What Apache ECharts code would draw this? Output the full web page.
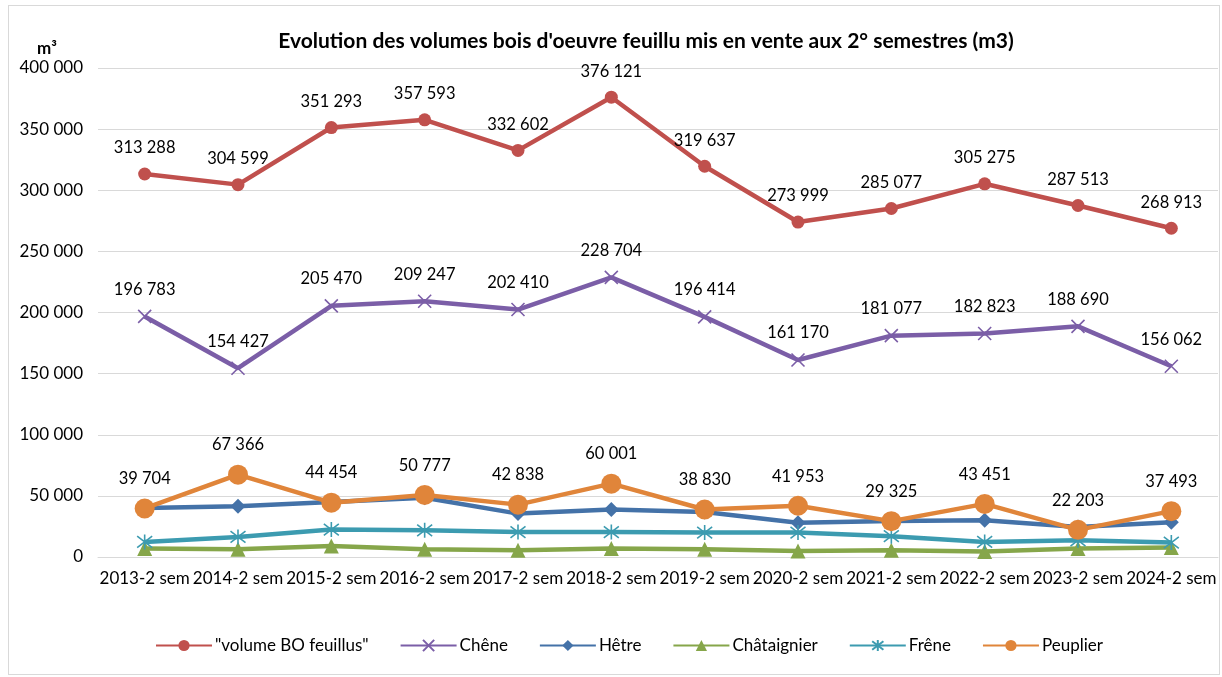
<!DOCTYPE html>
<html>
<head>
<meta charset="utf-8">
<script src="https://cdn.jsdelivr.net/npm/echarts@6/dist/echarts.min.js"></script>
<style>
  html, body { margin: 0; padding: 0; background: #fff; }
  #frame {
    position: absolute; left: 8px; top: 5px;
    width: 1212px; height: 670px;
    border: 1px solid #d9d9d9; box-sizing: border-box;
  }
  #chart { position: absolute; left: 0; top: 0; width: 1222px; height: 677px; }
</style>
</head>
<body>
<div id="frame"></div>
<div id="chart"></div>
<script type="text/javascript">
    var categories = ['2013-2 sem', '2014-2 sem', '2015-2 sem', '2016-2 sem', '2017-2 sem', '2018-2 sem',
                      '2019-2 sem', '2020-2 sem', '2021-2 sem', '2022-2 sem', '2023-2 sem', '2024-2 sem'];
    var volumeBO = [313288, 304599, 351293, 357593, 332602, 376121, 319637, 273999, 285077, 305275, 287513, 268913];
    var chene = [196783, 154427, 205470, 209247, 202410, 228704, 196414, 161170, 181077, 182823, 188690, 156062];
    var hetre = [40000, 41500, 45000, 48500, 35500, 38800, 36800, 28100, 29500, 30000, 24500, 28500];
    var chataignier = [6900, 6300, 9000, 6300, 5500, 6900, 6300, 4900, 5500, 4600, 6900, 7700];
    var frene = [12300, 16400, 22400, 21800, 20400, 20400, 20000, 20000, 17000, 12300, 13700, 11800];
    var peuplier = [39704, 67366, 44454, 50777, 42838, 60001, 38830, 41953, 29325, 43451, 22203, 37493];

    var fontFam = 'Lato, "Liberation Sans", sans-serif';
    function fmt(v) {
        return String(v).replace(/\B(?=(\d{3})+(?!\d))/g, ' ');
    }

    var crossPath = 'path://M0,0L10,10M10,0L0,10';
    var starPath = 'path://M0,0L10,10M10,0L0,10M5,-1.5L5,11.5';

    function mkSeries(name, data, color, symbol, size, labels, z) {
        var s = {
            name: name,
            type: 'line',
            data: data,
            symbol: symbol,
            symbolSize: size,
            z: z,
            lineStyle: { color: color, width: 4.5 },
            itemStyle: { color: color },
            label: {
                show: labels,
                position: 'top',
                distance: 11,
                color: '#000',
                fontSize: 16.5,
                fontFamily: fontFam,
                formatter: function (p) { return fmt(p.value); }
            }
        };
        if (symbol === crossPath || symbol === starPath) {
            s.itemStyle = { color: 'transparent', borderColor: color, borderWidth: 1.6 };
        }
        return s;
    }

    var chartA = echarts.init(document.getElementById('chart'));
    var option = {
        animation: false,
        textStyle: { fontFamily: fontFam },
        title: [{
            text: "Evolution des volumes bois d'oeuvre feuillu mis en vente aux 2° semestres (m3)",
            left: 641, top: 26, textAlign: 'center',
            textStyle: { fontSize: 21, fontWeight: 'bold', color: '#000', fontFamily: fontFam }
        }, {
            text: 'm³',
            left: 32, top: 35,
            textStyle: { fontSize: 17, fontWeight: 'bold', color: '#000', fontFamily: fontFam }
        }],
        grid: { left: 98, right: 4, top: 68, bottom: 120 },
        legend: {
            bottom: 18,
            left: 150,
            itemGap: 31,
            itemWidth: 56,
            itemHeight: 14,
            textStyle: { fontSize: 17, color: '#000', fontFamily: fontFam, padding: [0, 0, 0, -2] },
            data: ['"volume BO feuillus"', 'Chêne', 'Hêtre', 'Châtaignier', 'Frêne', 'Peuplier']
        },
        xAxis: {
            type: 'category',
            data: categories,
            axisLine: { lineStyle: { color: '#d9d9d9' } },
            axisTick: { show: false },
            axisLabel: { color: '#000', fontSize: 17, margin: 13, interval: 0, fontFamily: fontFam }
        },
        yAxis: {
            type: 'value',
            min: 0, max: 400000, interval: 50000,
            splitLine: { lineStyle: { color: '#d9d9d9' } },
            axisLabel: { color: '#000', fontSize: 17, margin: 15, fontFamily: fontFam,
                         formatter: function (v) { return fmt(v); } }
        },
        series: [
            mkSeries('"volume BO feuillus"', volumeBO, '#c0504d', 'circle', 13, true, 6),
            mkSeries('Chêne', chene, '#7b5ea7', crossPath, 13, true, 5),
            mkSeries('Hêtre', hetre, '#4472a8', 'diamond', 15, false, 3),
            mkSeries('Châtaignier', chataignier, '#86a64a', 'triangle', 15, false, 2),
            mkSeries('Frêne', frene, '#3c9bb0', starPath, 15, false, 3),
            mkSeries('Peuplier', peuplier, '#e0853a', 'circle', 20, true, 4)
        ]
    };
    chartA.setOption(option);
</script>
</body>
</html>
